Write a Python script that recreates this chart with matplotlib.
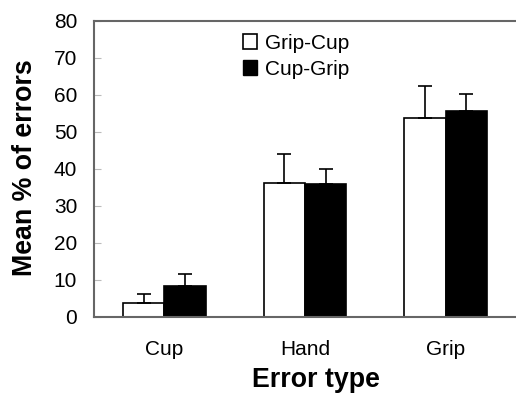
import matplotlib.pyplot as plt
import numpy as np
from matplotlib.patches import Patch

plt.rcParams['font.family'] = ['Liberation Sans', 'DejaVu Sans']

categories = ['Cup', 'Hand', 'Grip']
grip_cup = [3.8, 36.3, 53.7]
grip_cup_err = [2.3, 7.8, 8.8]
cup_grip = [8.4, 35.8, 55.7]
cup_grip_err = [3.2, 4.2, 4.5]

fig = plt.figure(figsize=(5.16, 3.96), dpi=100)
ax = fig.add_axes([0.182, 0.2, 0.818, 0.747])

x = np.arange(len(categories))
w = 0.294
ekw = dict(elinewidth=1.2, capthick=1.2)
ax.bar(x - w / 2, grip_cup, w, color='white', edgecolor='black', linewidth=1.2,
       yerr=[np.zeros(3), grip_cup_err], capsize=4.7, error_kw=ekw, label='Grip-Cup')
ax.bar(x + w / 2, cup_grip, w, color='black', edgecolor='black', linewidth=1.2,
       yerr=[np.zeros(3), cup_grip_err], capsize=4.7, error_kw=ekw, label='Cup-Grip')

ax.set_xlim(-0.5, 2.5)
ax.set_ylim(0, 80)
ax.set_yticks(range(0, 81, 10))
ax.set_xticks(x)
ax.set_xticklabels(categories, fontsize=15)
ax.tick_params(axis='y', direction='in', length=5, color='#bbbbbb', labelsize=15, pad=12)
ax.tick_params(axis='x', length=0, pad=17)
for s in ['left', 'bottom', 'top']:
    ax.spines[s].set_color('#666666')
    ax.spines[s].set_linewidth(1.5)
ax.spines['right'].set_visible(False)

ax.set_ylabel('Mean % of errors', fontsize=19.3, fontweight='bold', va='center')
ax.yaxis.set_label_coords(-0.164, 0.505)
ax.set_xlabel('Error type', fontsize=19.3, fontweight='bold', va='center')
ax.xaxis.set_label_coords(0.526, -0.215)

handles = [Patch(facecolor='white', edgecolor='black', linewidth=1.2, label='Grip-Cup'),
           Patch(facecolor='black', edgecolor='black', label='Cup-Grip')]
ax.legend(handles=handles, loc='upper left', bbox_to_anchor=(0.333, 0.985), frameon=False,
          fontsize=15, handlelength=0.7, handleheight=0.7, handletextpad=0.35,
          labelspacing=0.35, borderaxespad=0)

fig.savefig('out.png', dpi=100)
